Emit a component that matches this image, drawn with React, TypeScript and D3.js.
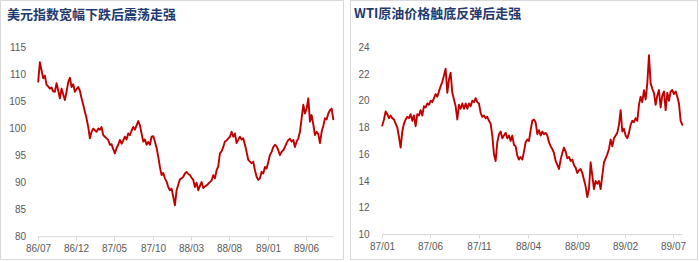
import React from "react";
import * as d3 from "d3";

// ---- Data ----
const DXY_TITLE = "美元指数宽幅下跌后震荡走强";
const WTI_TITLE = "WTI原油价格触底反弹后走强";

const DXY_START = "1986-07-03";
const DXY_END = "1989-09-19";
const DXY_VALUES = [
  108.7, 112.3, 110.8, 109.3, 109.8, 108.1, 107.8, 107.4, 107.6, 106.9,
  106.8, 108.4, 107.1, 105.6, 107.4, 106.3, 105.3, 106.8, 108.6, 109.4,
  107.7, 108.2, 106.8, 107.3, 107.7, 107.0, 105.6, 104.4, 103.1, 101.9,
  100.3, 98.2, 99.4, 100.0, 99.7, 99.4, 100.0, 99.8, 100.3, 98.8,
  98.5, 98.2, 97.9, 97.0, 97.1, 96.2, 95.4, 96.4, 97.0, 97.9,
  97.2, 97.8, 98.5, 98.0, 99.1, 98.8, 99.6, 100.3, 99.8, 100.6,
  101.4, 100.6, 99.1, 97.6, 98.0, 97.0, 97.5, 97.0, 98.5, 98.6,
  97.6, 96.4, 94.8, 92.9, 91.4, 91.8, 90.8, 90.2, 89.2, 88.6,
  88.9, 87.4, 85.8, 88.6, 89.6, 90.6, 90.8, 91.1, 91.7, 92.0,
  91.6, 91.4, 90.9, 90.5, 89.2, 90.0, 88.6, 89.4, 90.1, 89.0,
  89.3, 89.5, 89.8, 90.1, 90.4, 91.4, 90.8, 92.3, 93.0, 95.4,
  95.8, 96.6, 97.6, 97.8, 98.2, 98.5, 99.4, 98.5, 99.1, 97.3,
  97.9, 98.5, 98.0, 98.2, 97.0, 95.7, 94.2, 93.9, 93.6, 93.9,
  92.3, 91.1, 90.5, 90.8, 92.0, 91.7, 92.9, 92.6, 93.8, 95.1,
  95.7, 96.6, 97.0, 96.7, 96.0, 95.1, 95.7, 96.0, 96.6, 97.3,
  97.9, 98.1, 97.6, 97.9, 96.6, 97.6, 98.2, 99.4, 101.9, 104.4,
  102.8, 103.7, 105.6, 101.3, 102.5, 100.8, 98.8, 99.4, 99.0, 97.3,
  99.4, 100.5, 101.9, 101.7, 102.8, 103.4, 103.7, 101.7,
];
const DXY_X_TICKS = ["86/07", "86/12", "87/05", "87/10", "88/03", "88/08", "89/01", "89/06"];
const DXY_Y_TICKS = [80, 85, 90, 95, 100, 105, 110, 115];

const WTI_START = "1987-01-01";
const WTI_END = "1989-07-29";
const WTI_VALUES = [
  18.15, 18.6, 19.2, 19.0, 18.7, 18.9, 18.7, 18.6, 18.3, 18.0,
  17.3, 16.5, 17.7, 18.3, 18.6, 18.8, 18.7, 19.0, 18.5, 18.9,
  18.1, 19.0, 18.9, 19.3, 18.9, 19.6, 19.5, 19.8, 19.7, 20.0,
  19.9, 20.2, 20.5, 20.3, 20.7, 21.1, 21.4, 21.9, 22.4, 20.6,
  21.6, 22.1, 20.6, 20.1, 19.6, 18.6, 19.7, 19.4, 19.8, 19.4,
  19.8, 19.4, 19.8, 19.6, 20.0, 19.9, 20.2, 19.9, 19.8, 19.1,
  18.8, 18.9, 18.7, 18.8, 18.5, 18.3, 17.4, 16.0, 15.5, 16.9,
  17.5, 17.7, 17.2, 17.4, 17.6, 17.2, 17.4, 17.0, 17.4, 16.7,
  16.6, 15.9, 15.6, 15.8, 15.6, 16.2, 16.9, 17.1, 17.0, 17.8,
  18.5, 18.6, 18.4, 17.5, 17.8, 17.4, 17.7, 17.5, 17.6, 17.4,
  16.9, 16.6, 16.4, 16.1, 15.5, 15.2, 14.9, 15.6, 16.1, 16.5,
  16.2, 15.7, 15.8, 15.5, 15.6, 15.2, 15.0, 14.6, 14.8, 14.9,
  14.6, 14.1, 13.6, 12.8, 13.4, 15.4, 14.4, 13.4, 14.0, 13.8,
  14.0, 13.4, 14.4, 15.4, 15.7, 16.0, 16.4, 17.1, 16.6, 17.2,
  17.4, 17.6, 18.2, 19.3, 17.7, 17.9, 17.4, 17.2, 17.6, 18.2,
  18.5, 18.4, 18.7, 18.5, 19.7, 20.3, 19.9, 20.8, 20.1, 21.3,
  23.4, 21.3, 20.9, 20.6, 19.7, 20.4, 20.8, 19.5, 20.4, 20.7,
  19.3, 20.6, 20.0, 20.7, 20.8, 20.5, 20.7, 20.3, 19.8, 18.5,
  18.2,
];
const WTI_X_TICKS = ["87/01", "87/06", "87/11", "88/04", "88/09", "89/02", "89/07"];
const WTI_Y_TICKS = [10, 12, 14, 16, 18, 20, 22, 24];

// ---- helpers ----
const parseTick = (s: string) => {
  const [yy, mm] = s.split("/").map(Number);
  return new Date(1900 + yy, mm - 1, 1);
};
const parseDay = (s: string) => {
  const [y, m, d] = s.split("-").map(Number);
  return new Date(y, m - 1, d);
};

type PanelProps = {
  box: [number, number, number, number];
  title: string;
  titleX: number;
  titleY: number;
  values: number[];
  start: string;
  end: string;
  domainStart: string;
  domainEnd: string;
  xRange: [number, number];
  yDomain: [number, number];
  yRange: [number, number];
  xTicks: string[];
  yTicks: number[];
  labelRight: number;
  xLabelY: number;
};

function Panel(p: PanelProps) {
  const x = d3
    .scaleTime()
    .domain([parseDay(p.domainStart), parseDay(p.domainEnd)])
    .range(p.xRange);
  const y = d3.scaleLinear().domain(p.yDomain).range(p.yRange);
  const t0 = parseDay(p.start).getTime();
  const t1 = parseDay(p.end).getTime();
  const n = p.values.length;
  const pts: [Date, number][] = p.values.map((v, i) => [
    new Date(t0 + ((t1 - t0) * i) / (n - 1)),
    v,
  ]);
  const line = d3
    .line<[Date, number]>()
    .x((d) => x(d[0]))
    .y((d) => y(d[1]));
  const axisY = y(p.yDomain[0]);
  const [bx, by, bw, bh] = p.box;
  return (
    <g>
      <rect x={bx} y={by} width={bw} height={bh} fill="#fff" stroke="#D9D9D9" strokeWidth={1} />
      <text
        x={p.titleX}
        y={p.titleY}
        fontFamily="'Noto Sans CJK SC', 'Noto Sans', sans-serif"
        fontWeight={700}
        fontSize={13}
        fill="#1F3A6E"
      >
        {p.title}
      </text>
      {p.yTicks.map((t) => (
        <text
          key={t}
          x={p.labelRight}
          y={y(t)}
          textAnchor="end"
          dominantBaseline="central"
          fontFamily="'Liberation Sans', Arial, sans-serif"
          fontSize={10}
          fill="#595959"
        >
          {t}
        </text>
      ))}
      <line x1={p.xRange[0]} x2={p.xRange[1]} y1={axisY} y2={axisY} stroke="#D9D9D9" strokeWidth={1} />
      {p.xTicks.map((t) => {
        const xx = Math.round(x(parseTick(t))) + 0.5;
        return (
          <g key={t}>
            <line x1={xx} x2={xx} y1={axisY} y2={axisY + 4} stroke="#D9D9D9" strokeWidth={1} />
            <text
              x={xx}
              y={p.xLabelY}
              textAnchor="middle"
              dominantBaseline="central"
              fontFamily="'Liberation Sans', Arial, sans-serif"
              fontSize={10}
              fill="#595959"
            >
              {t}
            </text>
          </g>
        );
      })}
      <path
        d={line(pts) || ""}
        fill="none"
        stroke="#C00000"
        strokeWidth={1.9}
        strokeLinejoin="round"
        strokeLinecap="round"
      />
    </g>
  );
}

export default function App() {
  return (
    <svg
      width={699}
      height={262}
      style={{ position: "absolute", left: 0, top: 0, background: "#fff" }}
    >
      <Panel
        box={[0.5, 0.5, 343, 259]}
        title={DXY_TITLE}
        titleX={7}
        titleY={19}
        values={DXY_VALUES}
        start={DXY_START}
        end={DXY_END}
        domainStart="1986-07-01"
        domainEnd="1989-09-19"
        xRange={[37.7, 333.3]}
        yDomain={[80, 115]}
        yRange={[236.7, 47.5]}
        xTicks={DXY_X_TICKS}
        yTicks={DXY_Y_TICKS}
        labelRight={26}
        xLabelY={248.3}
      />
      <Panel
        box={[350.5, 0.5, 347, 259]}
        title={WTI_TITLE}
        titleX={354}
        titleY={18}
        values={WTI_VALUES}
        start={WTI_START}
        end={WTI_END}
        domainStart="1987-01-01"
        domainEnd="1989-07-29"
        xRange={[382.3, 682.3]}
        yDomain={[10, 24]}
        yRange={[234.5, 47.3]}
        xTicks={WTI_X_TICKS}
        yTicks={WTI_Y_TICKS}
        labelRight={369.5}
        xLabelY={246.7}
      />
    </svg>
  );
}
